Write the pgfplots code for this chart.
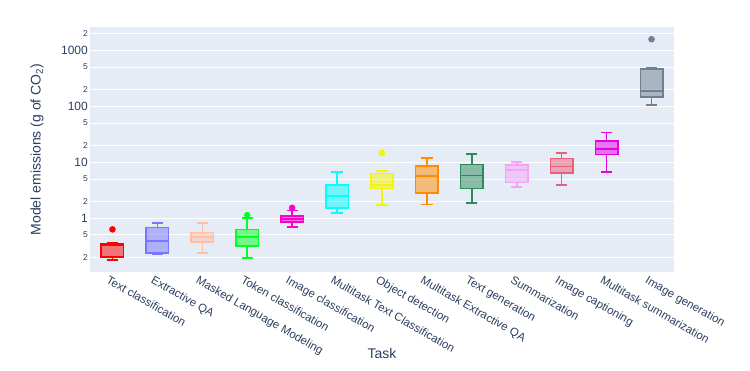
\documentclass[border=0pt]{standalone}
\usepackage{pgfplots}
\pgfplotsset{compat=1.18}
\usepgfplotslibrary{statistics}
\usetikzlibrary{calc}
\usepackage{fontspec}
\setmainfont{Liberation Sans}
\definecolor{bg}{HTML}{E5ECF6}
\definecolor{txt}{HTML}{2A3F5F}
\definecolor{c0}{HTML}{FF0000}
\definecolor{c1}{HTML}{7878FF}
\definecolor{c2}{HTML}{FFC0A8}
\definecolor{c3}{HTML}{00FF22}
\definecolor{c4}{HTML}{FF00CC}
\definecolor{c5}{HTML}{00FFFF}
\definecolor{c6}{HTML}{F5F500}
\definecolor{c7}{HTML}{FF8C00}
\definecolor{c8}{HTML}{2E8B57}
\definecolor{c9}{HTML}{F5A3F5}
\definecolor{c10}{HTML}{E8607A}
\definecolor{c11}{HTML}{E600E6}
\definecolor{c12}{HTML}{708090}
\newcommand{\sm}[1]{{\fontsize{8.5}{9}\selectfont #1}}
\pgfplotsset{
  bx/.style={draw=#1, fill=#1, fill opacity=0.5, line width=1.5pt, solid,
    mark=*, mark size=3pt, mark options={draw=#1, fill=#1, fill opacity=1, line width=0.5pt}},
}
\begin{document}
\begin{tikzpicture}[x=1pt,y=1pt]
\begin{axis}[
  scale only axis,
  width=584pt, height=245pt,
  ymode=log,
  ymin=0.109, ymax=2600,
  xmin=-0.5, xmax=12.5,
  axis background/.style={fill=bg},
  axis line style={draw=none},
  tick style={draw=none},
  ymajorgrids, grid style={white, line width=1pt},
  ytick={0.2,0.5,1,2,5,10,20,50,100,200,500,1000,2000},
  yticklabels={\sm{2},\sm{5},1,\sm{2},\sm{5},10,\sm{2},\sm{5},100,\sm{2},\sm{5},1000,\sm{2}},
  yticklabel style={font=\fontsize{12}{12}\selectfont, text=txt, inner sep=1pt, xshift=-1pt},
  xtick={0,...,12},
  xticklabels={Text classification,Extractive QA,Masked Language Modeling,Token classification,Image classification,Multitask Text Classification,Object detection,Multitask Extractive QA,Text generation,Summarization,Image captioning,Multitask summarization,Image generation},
  xticklabel style={font=\fontsize{11.5}{12}\selectfont, text=txt, rotate=-30, anchor=north west, inner sep=1pt, xshift=-2pt, yshift=-3pt},
  ylabel={Model emissions (g of CO\textsubscript{2})},
  ylabel style={at={(axis description cs:0,0.5)}, anchor=center, yshift=53pt, font=\fontsize{14}{14}\selectfont, text=txt},
  xlabel={Task},
  xlabel style={at={(axis description cs:0.5,0)}, anchor=center, yshift=-81pt, font=\fontsize{14}{14}\selectfont, text=txt},
  boxplot/draw direction=y,
  boxplot/box extend=0.5,
  boxplot/whisker extend=0.25,
  clip=false,
]
\addplot[bx=c0, boxplot prepared={lower whisker=0.178, lower quartile=0.204, median=0.33, upper quartile=0.353, upper whisker=0.368, draw position=0}] table[row sep=\\,y index=0] {data\\ 0.63\\};
\addplot[bx=c1, boxplot prepared={lower whisker=0.225, lower quartile=0.24, median=0.39, upper quartile=0.68, upper whisker=0.82, draw position=1}] coordinates {};
\addplot[bx=c2, boxplot prepared={lower whisker=0.24, lower quartile=0.377, median=0.46, upper quartile=0.555, upper whisker=0.82, draw position=2}] coordinates {};
\addplot[bx=c3, boxplot prepared={lower whisker=0.193, lower quartile=0.32, median=0.46, upper quartile=0.63, upper whisker=1.01, draw position=3}] table[row sep=\\,y index=0] {data\\ 1.13\\};
\addplot[bx=c4, boxplot prepared={lower whisker=0.70, lower quartile=0.86, median=0.97, upper quartile=1.1, upper whisker=1.37, draw position=4}] table[row sep=\\,y index=0] {data\\ 1.53\\};
\addplot[bx=c5, boxplot prepared={lower whisker=1.24, lower quartile=1.53, median=2.47, upper quartile=3.88, upper whisker=6.63, draw position=5}] coordinates {};
\addplot[bx=c6, boxplot prepared={lower whisker=1.71, lower quartile=3.39, median=3.88, upper quartile=6.28, upper whisker=6.9, draw position=6}] table[row sep=\\,y index=0] {data\\ 14.7\\};
\addplot[bx=c7, boxplot prepared={lower whisker=1.76, lower quartile=2.83, median=5.62, upper quartile=8.49, upper whisker=11.9, draw position=7}] coordinates {};
\addplot[bx=c8, boxplot prepared={lower whisker=1.88, lower quartile=3.39, median=5.79, upper quartile=9.1, upper whisker=14.1, draw position=8}] coordinates {};
\addplot[bx=c9, boxplot prepared={lower whisker=3.58, lower quartile=4.34, median=7.2, upper quartile=8.84, upper whisker=10, draw position=9}] coordinates {};
\addplot[bx=c10, boxplot prepared={lower whisker=3.88, lower quartile=6.44, median=8.38, upper quartile=11.6, upper whisker=14.5, draw position=10}] coordinates {};
\addplot[bx=c11, boxplot prepared={lower whisker=6.71, lower quartile=13.7, median=17.1, upper quartile=23.7, upper whisker=33.9, draw position=11}] coordinates {};
\addplot[bx=c12, boxplot prepared={lower whisker=104, lower quartile=146.6, median=185, upper quartile=458, upper whisker=483, draw position=12}] table[row sep=\\,y index=0] {data\\ 1571\\};
\end{axis}
\pgfresetboundingbox
\path ($(current axis.south west)+(-90pt,-99pt)$) rectangle ($(current axis.north east)+(76pt,27pt)$);
\end{tikzpicture}
\end{document}
